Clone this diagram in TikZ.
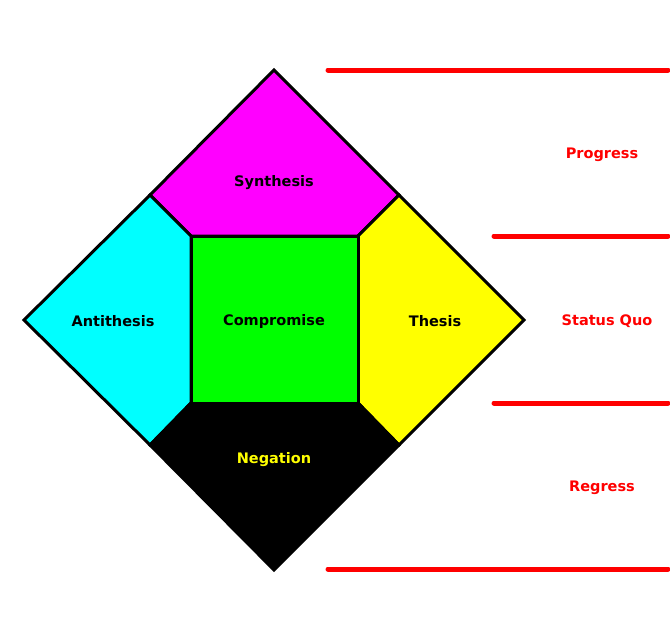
\documentclass[tikz,border=0pt]{standalone}
\usepackage{fontspec}
\setmainfont{DejaVu Sans}
\definecolor{pmag}{RGB}{255,0,255}
\definecolor{pcyan}{RGB}{0,255,255}
\definecolor{pyel}{RGB}{255,255,0}
\definecolor{pgreen}{RGB}{0,255,0}
\definecolor{pred}{RGB}{255,0,0}
\begin{document}
\begin{tikzpicture}[x=1pt,y=-1pt,
  region/.style={draw=black,line width=3pt,line join=miter},
  lbl/.style={font=\bfseries\fontsize{14.5}{17}\selectfont},
  level/.style={draw=pred,line width=5pt,line cap=round},
  lvl/.style={text=pred,font=\bfseries\fontsize{14.5}{17}\selectfont}]
\useasboundingbox (0,0) rectangle (670,643);
% regions
\filldraw[region,fill=pmag] (274,70) -- (150,195) -- (191,236) -- (358,236) -- (399,195) -- cycle;
\filldraw[region,fill=pcyan] (150,195) -- (24,320) -- (150,445) -- (191,403) -- (191,236) -- cycle;
\filldraw[region,fill=pyel] (399,195) -- (358,236) -- (358,403) -- (399,445) -- (524,320) -- cycle;
\filldraw[region,fill=black] (191,403) -- (150,445) -- (274,570) -- (399,445) -- (358,403) -- cycle;
\filldraw[region,fill=pgreen] (191,236) rectangle (358,403);
% labels
\node[lbl] (syn) at (274,183) {Synthesis};
\node[lbl] (ant) at (113,321) {Antithesis};
\node[lbl] (com) at (274,321) {Compromise};
\node[lbl] (the) at (435,321) {Thesis};
\node[lbl,text=pyel] (neg) at (274,460) {Negation};
% level lines
\coordinate (l1a) at (328,70);  \coordinate (l1b) at (668,70);
\coordinate (l2a) at (494,236); \coordinate (l2b) at (668,236);
\coordinate (l3a) at (494,403); \coordinate (l3b) at (668,403);
\coordinate (l4a) at (328,569); \coordinate (l4b) at (668,569);
\draw[level] (l1a) -- (l1b);
\draw[level] (l2a) -- (l2b);
\draw[level] (l3a) -- (l3b);
\draw[level] (l4a) -- (l4b);
\node[lvl] (prog) at (602,155) {Progress};
\node[lvl] (sq) at (607,321) {Status Quo};
\node[lvl] (reg) at (602,488) {Regress};
\end{tikzpicture}
\end{document}
